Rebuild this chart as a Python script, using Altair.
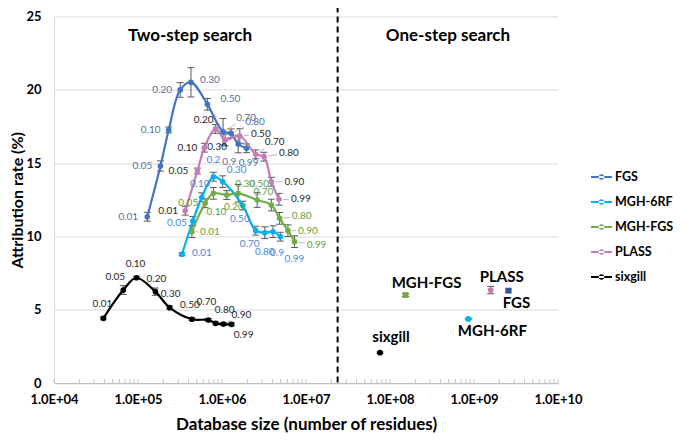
import math
import altair as alt
import pandas as pd

# ---------------- data ----------------
series_order = ["FGS", "MGH-6RF", "MGH-FGS", "PLASS", "sixgill"]

fgs_x = [1.29e5, 1.85e5, 2.32e5, 3.18e5, 4.27e5, 6.7e5, 1.03e6, 1.28e6, 1.56e6, 1.96e6]
fgs_y = [11.34, 14.8, 17.26, 19.99, 20.51, 19.01, 17.14, 17.03, 16.3, 16.01]
fgs_err = [0.3, 0.35, 0.2, 0.5, 1.0, 0.4, 0.9, 0.3, 0.6, 0.3]
fgs_lab = ["0.01", "0.05", "0.10", "0.20", "0.30", "0.50", "0.70", "0.80", "0.9", "0.99"]

m6_x = [3.34e5, 4.5e5, 5.75e5, 7.9e5, 1.02e6, 1.77e6, 2.52e6, 3.23e6, 4.05e6, 4.95e6]
m6_y = [8.78, 11.05, 12.67, 14.07, 13.73, 12.1, 10.39, 10.25, 10.32, 9.98]
m6_err = [0.1, 0.3, 0.3, 0.3, 0.4, 0.3, 0.3, 0.4, 0.4, 0.3]
m6_lab = ["0.01", "0.05", "0.10", "0.2", "0.30", "0.50", "0.70", "0.80", "0.9", "0.99"]

mf_x = [4.38e5, 6.3e5, 7.9e5, 1.14e6, 1.56e6, 2.62e6, 3.87e6, 4.85e6, 6.09e6, 7.3e6]
mf_y = [10.32, 12.26, 12.94, 12.82, 12.94, 12.48, 12.14, 11.23, 10.39, 9.64]
mf_err = [0.4, 0.3, 0.4, 0.3, 0.6, 0.5, 0.4, 0.4, 0.4, 0.4]
mf_lab = ["0.01", "0.05", "0.10", "0.20", "0.30", "0.50", "0.70", "0.80", "0.90", "0.99"]

pl_x = [3.65e5, 5.1e5, 6.17e5, 8.4e5, 1.09e6, 1.63e6, 2.52e6, 3.16e6, 3.87e6, 4.76e6]
pl_y = [11.75, 14.46, 16.05, 17.33, 16.58, 16.85, 15.6, 15.44, 13.73, 12.53]
pl_err = [0.3, 0.2, 0.3, 0.3, 0.4, 0.5, 0.3, 0.3, 0.3, 0.4]
pl_lab = ["0.01", "0.05", "0.10", "0.20", "0.30", "0.50", "0.70", "0.80", "0.90", "0.99"]

sx_x = [3.87e4, 6.68e4, 9.6e4, 1.61e5, 2.38e5, 4.38e5, 6.89e5, 8.4e5, 1.04e6, 1.3e6]
sx_y = [4.41, 6.34, 7.18, 6.23, 5.14, 4.35, 4.3, 4.07, 4.02, 4.0]
sx_err = [0.1, 0.3, 0.1, 0.25, 0.1, 0.1, 0.1, 0.1, 0.1, 0.1]
sx_lab = ["0.01", "0.05", "0.10", "0.20", "0.30", "0.50", "0.70", "0.80", "0.90", "0.99"]

one_names = ["MGH-FGS", "PLASS", "FGS", "MGH-6RF", "sixgill"]
one_x = [1.53e8, 1.58e9, 2.57e9, 8.57e8, 7.6e7]
one_y = [6.0, 6.34, 6.3, 4.37, 2.07]
one_err = [0.1, 0.25, 0.1, 0.05, 0.05]

x_tick_values = [1e4, 1e5, 1e6, 1e7, 1e8, 1e9, 1e10]
y_tick_values = [0, 5, 10, 15, 20, 25]
divider_x = 2.38e7
panel_titles = ["Two-step search", "One-step search"]
panel_title_x = [4.16e5, 4.9e8]
panel_title_y = [23.67, 23.67]

# ---------------- layout / style ----------------
W, H = 504, 366.5
DEC = W / 6.0
PXY = H / 25.0
FONT = "Lato"

line_colors = {"FGS": "#4472C4", "MGH-6RF": "#00B0F0", "MGH-FGS": "#70AD47",
               "PLASS": "#C47DB5", "sixgill": "#000000"}
label_colors = {"FGS": "#5B6E9C", "MGH-6RF": "#4A86D9", "MGH-FGS": "#63A03E",
                "PLASS": "#1F1F1F", "sixgill": "#1F1F1F"}
one_colors = {"MGH-FGS": "#70AD47", "PLASS": "#C47DB5", "FGS": "#2F5597",
              "MGH-6RF": "#00B0F0", "sixgill": "#000000"}
one_shapes = {"MGH-FGS": "square", "PLASS": "circle", "FGS": "square",
              "MGH-6RF": "circle", "sixgill": "circle"}

label_offsets = {
    "FGS": [(-19, 0), (-18, 0), (-18, 0), (-18, 0), (19, -2), (23, -5), (23, -14), (24, -11), (-9, 18), (2, 15)],
    "MGH-6RF": [(20, -1), (-16, 2), (-2, -13), (0, -17), (14, -12), (-3, 13), (-6, 13), (0, 19), (4, 21), (14, 22)],
    "MGH-FGS": [(18, 0), (-17, 0), (3, 19), (7, 12), (7, -9), (2, -16), (-8, -13), (22, -2), (20, 0), (22, 3)],
    "PLASS": [(-17, 0), (-19, 0), (-17, 0), (-12, -9), (-8, 7), (21, -2), (19, -12), (25, -4), (23, 0), (22, 0)],
    "sixgill": [(-1, -14), (-8, -13), (-1, -14), (1, -13), (1, -14), (-2, -14), (-2, -18), (9, -13), (18, -9), (12, 11)],
}
leaders = {
    "FGS": [0, 0, 0, 0, 0, 0, 1, 1, 0, 0],
    "MGH-6RF": [0] * 10,
    "MGH-FGS": [1, 0, 0, 0, 0, 0, 0, 1, 1, 1],
    "PLASS": [0, 0, 0, 0, 0, 1, 1, 1, 1, 1],
    "sixgill": [0, 1, 0, 0, 0, 0, 1, 1, 1, 0],
}
one_label_offsets = [(21, -12), (11, -13), (8, 12), (24, 12), (11, -16)]

series = {
    "FGS": (fgs_x, fgs_y, fgs_err, fgs_lab),
    "MGH-6RF": (m6_x, m6_y, m6_err, m6_lab),
    "MGH-FGS": (mf_x, mf_y, mf_err, mf_lab),
    "PLASS": (pl_x, pl_y, pl_err, pl_lab),
    "sixgill": (sx_x, sx_y, sx_err, sx_lab),
}


def shift(x, y, dx, dy):
    return x * 10 ** (dx / DEC), y - dy / PXY


rows, lab_rows, lead_rows = [], [], []
for name in series_order:
    xs, ys, es, labs = series[name]
    for i in range(len(xs)):
        x, y, e = xs[i], ys[i], es[i]
        cl, _ = shift(x, y, -3.5, 0)
        cr, _ = shift(x, y, 3.5, 0)
        rows.append(dict(series=name, grp=name, x=x, y=y, lo=y - e, hi=y + e, cl=cl, cr=cr, order=i))
        dx, dy = label_offsets[name][i]
        lx, ly = shift(x, y, dx, dy)
        lab_rows.append(dict(lx=lx, ly=ly, text=labs[i], tcol=label_colors[name]))
        if leaders[name][i]:
            L = math.hypot(dx, dy)
            sx0, sy0 = shift(x, y, dx * 4 / L, dy * 4 / L)
            ex, ey = shift(x, y, dx * (1 - 12 / L), dy * (1 - 12 / L))
            lead_rows.append(dict(x=sx0, y=sy0, x2=ex, y2=ey))

one_df = pd.DataFrame({
    "name": one_names, "x": one_x, "y": one_y,
    "lo": [one_y[i] - one_err[i] for i in range(5)],
    "hi": [one_y[i] + one_err[i] for i in range(5)],
    "cl": [shift(one_x[i], 0, -3.5, 0)[0] for i in range(5)],
    "cr": [shift(one_x[i], 0, 3.5, 0)[0] for i in range(5)],
    "lx": [shift(one_x[i], one_y[i], *one_label_offsets[i])[0] for i in range(5)],
    "ly": [shift(one_x[i], one_y[i], *one_label_offsets[i])[1] for i in range(5)],
    "col": [one_colors[n] for n in one_names],
    "shape": [one_shapes[n] for n in one_names],
})

df = pd.DataFrame(rows)
lab_df = pd.DataFrame(lab_rows)
lead_df = pd.DataFrame(lead_rows)

minor = []
for d in range(4, 10):
    for m in range(1, 10):
        minor.append(m * 10 ** d)
minor.append(1e10)
minor_df = pd.DataFrame({"x": minor})

xscale = alt.Scale(type="log", domain=[1e4, 1e10], nice=False)
yscale = alt.Scale(domain=[0, 25], nice=False)
xaxis = alt.Axis(values=x_tick_values,
                 labelExpr="'1.0E+' + (datum.value < 1e10 ? '0' : '') + round(log(datum.value) / LN10)",
                 labelFont=FONT, labelFontSize=13, labelFontWeight="bold", labelColor="#000000",
                 labelPadding=10, labelFlush=False, labelOverlap=False, ticks=False, grid=False,
                 domainColor="#BFBFBF", domainWidth=1,
                 title="Database size (number of residues)", titleFont=FONT, titleFontSize=17,
                 titleFontWeight="bold", titleColor="#000000", titlePadding=10)
yaxis = alt.Axis(values=y_tick_values, labelFont=FONT, labelFontSize=13, labelFontWeight="bold",
                 labelColor="#000000", labelPadding=13, ticks=False, grid=True, gridColor="#D9D9D9",
                 domainColor="#D9D9D9", title="Attribution rate (%)", titleFont=FONT, titleFontSize=16,
                 titleFontWeight="bold", titleColor="#000000", titlePadding=0)


def X(f):
    return alt.X(f, type="quantitative", scale=xscale, axis=xaxis)


def Y(f):
    return alt.Y(f, type="quantitative", scale=yscale, axis=yaxis)


cscale = alt.Scale(domain=series_order, range=[line_colors[s] for s in series_order])
sscale = alt.Scale(domain=series_order, range=[line_colors[s] for s in series_order])
legend_path = ("M-1,-0.1L1,-0.1L1,0.1L-1,0.1Z "
               "M-0.27,0A0.27,0.27 0 1,0 0.27,0A0.27,0.27 0 1,0 -0.27,0Z")
legend = alt.Legend(title=None, orient="none", legendX=537, legendY=150, symbolType=legend_path,
                    symbolSize=441, symbolStrokeWidth=0, symbolOpacity=1, labelFont=FONT,
                    labelFontSize=12.5, labelFontWeight="bold", labelColor="#000000",
                    rowPadding=8, labelOffset=3, padding=0)

base = alt.Chart(df)

ticks = alt.Chart(minor_df).mark_rule(color="#BFBFBF", strokeWidth=1).encode(
    x=X("x"), y=alt.Y(datum=0, scale=yscale, axis=yaxis), y2=alt.Y2(datum=0.27))

err = base.mark_rule(color="#595959", strokeWidth=1).encode(x=X("x"), y=Y("lo"), y2="hi")
cap_lo = base.mark_rule(color="#595959", strokeWidth=1).encode(x=X("cl"), x2="cr", y=Y("lo"))
cap_hi = base.mark_rule(color="#595959", strokeWidth=1).encode(x=X("cl"), x2="cr", y=Y("hi"))

lines = base.mark_line(interpolate="catmull-rom", strokeWidth=2.2).encode(
    x=X("x"), y=Y("y"), stroke=alt.Stroke("grp:N", scale=sscale, legend=None),
    order="order:Q")
points = base.mark_circle(size=32, opacity=1).encode(
    x=X("x"), y=Y("y"), fill=alt.Fill("series:N", scale=cscale, legend=legend))

leads = alt.Chart(lead_df).mark_rule(color="#A6A6A6", strokeWidth=0.8).encode(
    x=X("x"), x2="x2", y=Y("y"), y2="y2")

labels = alt.Chart(lab_df).mark_text(font=FONT, fontSize=10, align="center", baseline="middle").encode(
    x=X("lx"), y=Y("ly"), text="text:N", color=alt.Color("tcol:N", scale=None))

one_base = alt.Chart(one_df)
one_err_l = one_base.mark_rule(color="#595959", strokeWidth=1).encode(x=X("x"), y=Y("lo"), y2="hi")
one_cap_lo = one_base.mark_rule(color="#595959", strokeWidth=1).encode(x=X("cl"), x2="cr", y=Y("lo"))
one_cap_hi = one_base.mark_rule(color="#595959", strokeWidth=1).encode(x=X("cl"), x2="cr", y=Y("hi"))
one_pts = one_base.mark_point(filled=True, size=34, opacity=1).encode(
    x=X("x"), y=Y("y"), color=alt.Color("col:N", scale=None), shape=alt.Shape("shape:N", scale=None))
one_labels = one_base.mark_text(font=FONT, fontSize=15, fontWeight="bold", color="#000000",
                                align="center", baseline="middle").encode(
    x=X("lx"), y=Y("ly"), text="name:N")

divider = alt.Chart(pd.DataFrame({"x": [divider_x]})).mark_rule(
    color="#000000", strokeWidth=2, strokeDash=[6, 4]).encode(
    x=X("x"), y=alt.value(-10), y2=alt.value(H))

titles = alt.Chart(pd.DataFrame({"t": panel_titles, "x": panel_title_x, "y": panel_title_y})).mark_text(
    font=FONT, fontSize=17, fontWeight="bold", color="#000000", align="center", baseline="middle").encode(
    x=X("x"), y=Y("y"), text="t:N")

chart = alt.layer(
    ticks, err, cap_lo, cap_hi, lines, points, leads, labels,
    one_err_l, one_cap_lo, one_cap_hi, one_pts, one_labels, divider, titles
).resolve_scale(stroke="independent", fill="independent").properties(
    width=W, height=H,
    autosize=alt.AutoSizeParams(type="none"),
    padding={"left": 46, "top": 8.5, "right": 119, "bottom": 50},
    background="#FFFFFF",
).configure_view(stroke=None)

chart.save("out.html", embed_options={"renderer": "svg", "actions": False})
